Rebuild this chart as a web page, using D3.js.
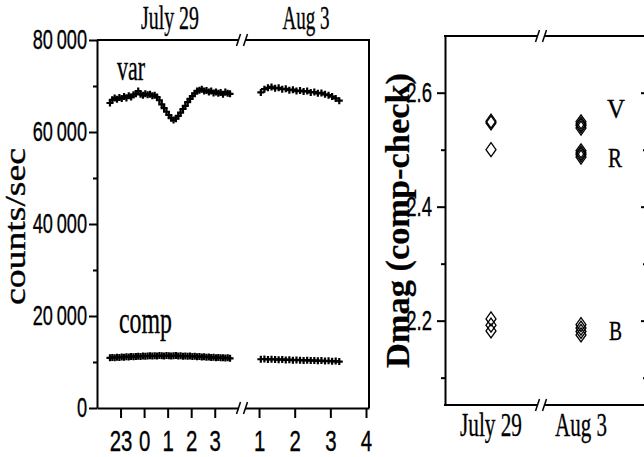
<!DOCTYPE html>
<html>
<head>
<meta charset="utf-8">
<script src="https://cdn.jsdelivr.net/npm/d3@7"></script>
<style>
  body { margin: 0; background: #fff; }
  svg { display: block; font-family: "Liberation Serif", "Times New Roman", serif; }
  svg text { fill: #000; stroke: #000; stroke-width: 0.35; }
  .axis path, .axis line { stroke: #000; stroke-width: 2; }
  .frame { stroke: #000; stroke-width: 2; fill: none; }
  .brk { stroke: #000; stroke-width: 1.5; }
  .pt { stroke: #000; stroke-width: 2.2; fill: none; }
  .dia { stroke: #000; stroke-width: 1.3; fill: none; }
</style>
</head>
<body>
<svg id="chart" width="644" height="457"></svg>
<script>
// ---- values ----

// UT hours of the samples (23h is written as -1)
var hoursJul29 = [-1.45, -1.35, -1.25, -1.15, -1.05, -0.95, -0.85, -0.75, -0.65, -0.55,
  -0.45, -0.35, -0.25, -0.15, -0.05, 0.05, 0.15, 0.25, 0.35, 0.45,
  0.55, 0.65, 0.75, 0.85, 0.95, 1.05, 1.15, 1.25, 1.35, 1.45,
  1.55, 1.65, 1.75, 1.85, 1.95, 2.05, 2.15, 2.25, 2.35, 2.45,
  2.55, 2.65, 2.75, 2.85, 2.95, 3.05, 3.15, 3.25, 3.35, 3.45, 3.55, 3.65];
var varJul29 = [66300, 67000, 67400, 67100, 67500, 67300, 67700, 67400, 67900, 67600,
  68100, 68300, 68900, 68200, 68000, 68300, 68100, 68200, 67900, 68000,
  67600, 66900, 66000, 65200, 64400, 63700, 63000, 62600, 62900, 63500,
  64200, 65000, 65700, 66500, 67200, 67800, 68400, 68900, 69100, 69300,
  68900, 69000, 68700, 68900, 68500, 68700, 68400, 68600, 68200, 68700, 68400, 68300];
var compJul29 = [10900, 11000, 10950, 11050, 11000, 11100, 11050, 11150, 11100, 11200,
  11150, 11200, 11250, 11200, 11300, 11250, 11300, 11350, 11300, 11350,
  11300, 11400, 11350, 11300, 11400, 11350, 11300, 11350, 11400, 11300,
  11350, 11250, 11300, 11250, 11300, 11200, 11250, 11150, 11200, 11100,
  11150, 11050, 11100, 11000, 11050, 10950, 11000, 10900, 10950, 10850, 10900, 10800];

var hoursAug3 = [1.05, 1.15, 1.25, 1.35, 1.45, 1.55, 1.65, 1.75, 1.85, 1.95,
  2.05, 2.15, 2.25, 2.35, 2.45, 2.55, 2.65, 2.75, 2.85, 2.95, 3.05, 3.15, 3.25];
var varAug3 = [68600, 69300, 69600, 69800, 69500, 69600, 69300, 69400, 69100, 69200,
  68900, 69000, 68800, 68900, 68600, 68700, 68400, 68500, 68200, 68000, 67700, 67300, 66800];
var compAug3 = [10600, 10650, 10550, 10600, 10550, 10500, 10550, 10450, 10500, 10400,
  10450, 10400, 10350, 10400, 10300, 10350, 10250, 10300, 10200, 10250, 10150, 10200, 10100];

var countTicks = [0, 10000, 20000, 30000, 40000, 50000, 60000, 70000, 80000];
var hourTicksJul29 = [-1, 0, 1, 2, 3];
var hourTicksAug3 = [1, 2, 3, 4];

// differential magnitudes (comp - check), several measures per night
var dmagDates = ["July 29", "Aug 3"];
var dmagV = [[2.550, 2.547], [2.549, 2.545, 2.542, 2.538]];
var dmagR = [[2.500], [2.498, 2.494, 2.491, 2.487]];
var dmagB = [[2.203, 2.192, 2.182], [2.193, 2.187, 2.181, 2.175]];
var dmagTicks = [2.1, 2.2, 2.3, 2.4, 2.5, 2.6];

// ---- drawing ----
var svg = d3.select("#chart");

// squeeze text horizontally (the original figure's type is condensed)
function squeeze(sel, sx) {
  sel.each(function() {
    var t = d3.select(this);
    var x = +t.attr("x") || 0;
    t.attr("x", x / sx).attr("transform", "scale(" + sx + ",1)");
  });
}

function label(parent, str, x, y, size, width, anchor) {
  return parent.append("text")
      .attr("x", x).attr("y", y)
      .attr("font-size", size)
      .attr("text-anchor", anchor || "start")
      .attr("textLength", width)
      .attr("lengthAdjust", "spacingAndGlyphs")
      .text(str);
}

function breakMark(x, y) {
  svg.append("rect").attr("x", x - 4).attr("y", y - 2).attr("width", 6).attr("height", 4).attr("fill", "#fff");
  svg.append("line").attr("class", "brk").attr("x1", x - 6.5).attr("y1", y + 6).attr("x2", x - 2.5).attr("y2", y - 6);
  svg.append("line").attr("class", "brk").attr("x1", x + 0.5).attr("y1", y + 6).attr("x2", x + 4.5).attr("y2", y - 6);
}

var cross = "M-3.5,0H3.5M0,-3.5V3.5";
var diamond = "M0,-7L5,0L0,7L-5,0Z";

// left panel: count rates
var p1 = {left: 97, right: 369, top: 40, bottom: 408, split: 243};

var yCounts = d3.scaleLinear().domain([0, 80000]).range([p1.bottom, p1.top]);
var xJul29 = d3.scaleLinear().domain([-2, 4.2]).range([p1.left, p1.split]);
var xAug3 = d3.scaleLinear().domain([0.55, 4.084]).range([p1.split, p1.right]);

var countFmt = function(d) {
  if (d % 20000) return "";
  return d === 0 ? "0" : d3.format(",")(d).replace(",", "\u2009");
};

var gy = svg.append("g").attr("class", "axis")
    .attr("transform", "translate(" + p1.left + ",0)")
    .call(d3.axisLeft(yCounts).tickValues(countTicks).tickSize(8).tickSizeOuter(0)
      .tickPadding(2).tickFormat(countFmt));
gy.selectAll(".tick").filter(function(d) { return d % 20000; }).select("line").attr("x2", -4);
gy.selectAll("text").attr("font-size", 28).call(squeeze, 0.65);

[[xJul29, hourTicksJul29], [xAug3, hourTicksAug3]].forEach(function(seg) {
  var g = svg.append("g").attr("class", "axis")
      .attr("transform", "translate(0," + p1.bottom + ")")
      .call(d3.axisBottom(seg[0]).tickValues(seg[1]).tickSize(10).tickSizeOuter(0)
        .tickPadding(12).tickFormat(function(d) { return d < 0 ? d + 24 : d; }));
  g.selectAll("text").attr("font-size", 30).call(squeeze, 0.68);
});

svg.append("path").attr("class", "frame")
    .attr("d", "M" + p1.left + "," + p1.top + "H" + p1.right + "V" + p1.bottom);
breakMark(p1.split, p1.top);
breakMark(p1.split, p1.bottom);

label(svg, "July 29", d3.mean(xJul29.range()), 28.5, 33, 58, "middle");
label(svg, "Aug 3", d3.mean(xAug3.range()), 28.5, 33, 47, "middle");

var series = [
  [hoursJul29, varJul29, xJul29], [hoursJul29, compJul29, xJul29],
  [hoursAug3, varAug3, xAug3], [hoursAug3, compAug3, xAug3]
];
series.forEach(function(s) {
  svg.append("g").selectAll("path")
    .data(s[0])
    .enter().append("path")
      .attr("class", "pt")
      .attr("d", cross)
      .attr("transform", function(h, i) {
        return "translate(" + s[2](h) + "," + yCounts(s[1][i]) + ")";
      });
});

label(svg, "var", 117, 80, 36, 28);
label(svg, "comp", 119, 333, 38, 53);

label(svg, "counts/sec", 0, 0, 29, 157, "middle")
    .attr("transform", "translate(25,226.5) rotate(-90)");

// right panel: differential magnitudes
var p2 = {left: 445, right: 647, top: 36, bottom: 405, split: 542};

var yDmag = d3.scaleLinear().domain([2.052, 2.6995]).range([p2.bottom, p2.top]);
var xDate = d3.scalePoint().domain(dmagDates).range([491, 581]);

var gy2 = svg.append("g").attr("class", "axis")
    .attr("transform", "translate(" + p2.left + ",0)")
    .call(d3.axisLeft(yDmag).tickValues(dmagTicks).tickSize(8).tickSizeOuter(0)
      .tickPadding(5).tickFormat(function(d) { return Math.round(d * 10) % 2 ? "" : d.toFixed(1); }));
gy2.selectAll(".tick").filter(function(d) { return Math.round(d * 10) % 2; }).select("line").attr("x2", -4);
gy2.selectAll("text").attr("font-size", 28).call(squeeze, 0.66);

var gy3 = svg.append("g").attr("class", "axis")
    .attr("transform", "translate(" + p2.right + ",0)")
    .call(d3.axisLeft(yDmag).tickValues(dmagTicks).tickSize(6).tickSizeOuter(0).tickFormat(""));
gy3.selectAll(".tick").filter(function(d) { return Math.round(d * 10) % 2; }).select("line").attr("x2", -4);

svg.append("path").attr("class", "frame")
    .attr("d", "M" + (p2.left - 1) + "," + p2.top + "H" + p2.right + "M" + (p2.left - 1) + "," + p2.bottom + "H" + p2.right);
breakMark(p2.split, p2.top);
breakMark(p2.split, p2.bottom);

[dmagV, dmagR, dmagB].forEach(function(band) {
  dmagDates.forEach(function(date, j) {
    svg.append("g").selectAll("path")
      .data(band[j])
      .enter().append("path")
        .attr("class", "dia")
        .attr("d", diamond)
        .attr("transform", function(v) { return "translate(" + xDate(date) + "," + yDmag(v) + ")"; });
  });
});

dmagDates.forEach(function(date, j) {
  label(svg, date, xDate(date), 436, 34, j ? 52 : 62, "middle");
});

var bx = xDate("Aug 3") + 27;
label(svg, "V", bx - 1, yDmag(2.572) + 9, 28, 18);
label(svg, "R", bx, yDmag(2.4854) + 9, 28, 14);
label(svg, "B", bx + 1, yDmag(2.1826) + 9.5, 28, 13);

label(svg, "Dmag (comp-check)", 0, 0, 33, 295, "middle")
    .attr("font-weight", "bold")
    .style("stroke-width", 0.2)
    .attr("transform", "translate(409,220.5) rotate(-90)");
</script>
</body>
</html>
